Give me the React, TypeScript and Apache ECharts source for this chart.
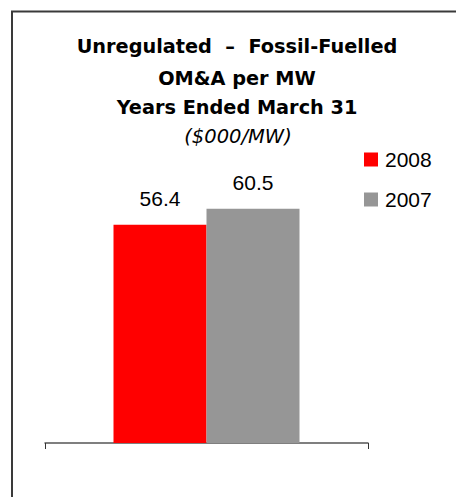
import React, { useEffect, useRef } from "react";
import * as echarts from "echarts";

const categories = ["OM&A per MW"];
const seriesNames = ["2008", "2007"];
const values2008 = [56.4];
const values2007 = [60.5];
const seriesColors = ["#FF0000", "#969696"];
const titleLines = ["Unregulated  –  Fossil-Fuelled", "OM&A per MW", "Years Ended March 31"];
const subtitle = "($000/MW)";

export default function App() {
  const ref = useRef<HTMLDivElement>(null);
  useEffect(() => {
    if (!ref.current) return;
    const chart = echarts.init(ref.current, undefined, { renderer: "svg" });
    const titleY = [46, 78, 107];
    const labelStyle = {
      show: true,
      position: "top",
      distance: 16,
      color: "#000",
      fontFamily: "Liberation Sans, Arial, sans-serif",
      fontSize: 21,
      formatter: (p: any) => p.value.toFixed(1),
    };
    chart.setOption({
      animation: false,
      backgroundColor: "#fff",
      grid: { left: 45, right: 88, top: 172, bottom: 54, containLabel: false },
      legend: {
        orient: "vertical",
        left: 359,
        top: 144,
        itemWidth: 14,
        itemHeight: 14,
        itemGap: 19,
        icon: "rect",
        data: seriesNames,
        textStyle: {
          color: "#000",
          fontFamily: "Liberation Sans, Arial, sans-serif",
          fontSize: 21,
          padding: [0, 0, 0, 2],
        },
      },
      xAxis: {
        type: "category",
        data: categories,
        axisLine: { show: true, lineStyle: { color: "#555", width: 1.5 } },
        axisTick: { show: true, length: 6, lineStyle: { color: "#333" } },
        axisLabel: { show: false },
        splitLine: { show: false },
      },
      yAxis: {
        type: "value",
        min: 0,
        max: 70,
        show: false,
        splitLine: { show: false },
      },
      series: [
        {
          name: seriesNames[0],
          type: "bar",
          data: values2008,
          barWidth: 93,
          barGap: "0%",
          itemStyle: { color: seriesColors[0] },
          label: labelStyle,
        },
        {
          name: seriesNames[1],
          type: "bar",
          data: values2007,
          barWidth: 93,
          barGap: "0%",
          itemStyle: { color: seriesColors[1] },
          label: labelStyle,
        },
      ],
      graphic: [
        {
          type: "rect",
          shape: { x: 12, y: 11.5, width: 480, height: 520 },
          style: { fill: "none", stroke: "#3a3a3a", lineWidth: 2 },
          silent: true,
        },
        ...titleLines.map((t, i) => ({
          type: "text",
          x: 237,
          y: titleY[i],
          style: {
            text: t,
            fill: "#000",
            font: "bold 19.3px 'DejaVu Sans', sans-serif",
            textAlign: "center",
            textVerticalAlign: "middle",
          },
        })),
        {
          type: "text",
          x: 238,
          y: 136,
          style: {
            text: subtitle,
            fill: "#000",
            font: "italic 19.5px 'DejaVu Sans', sans-serif",
            textAlign: "center",
            textVerticalAlign: "middle",
          },
        },
      ],
    });
    return () => chart.dispose();
  }, []);
  return (
    <div
      ref={ref}
      style={{ position: "fixed", left: 0, top: 0, width: 456, height: 497 }}
    />
  );
}
